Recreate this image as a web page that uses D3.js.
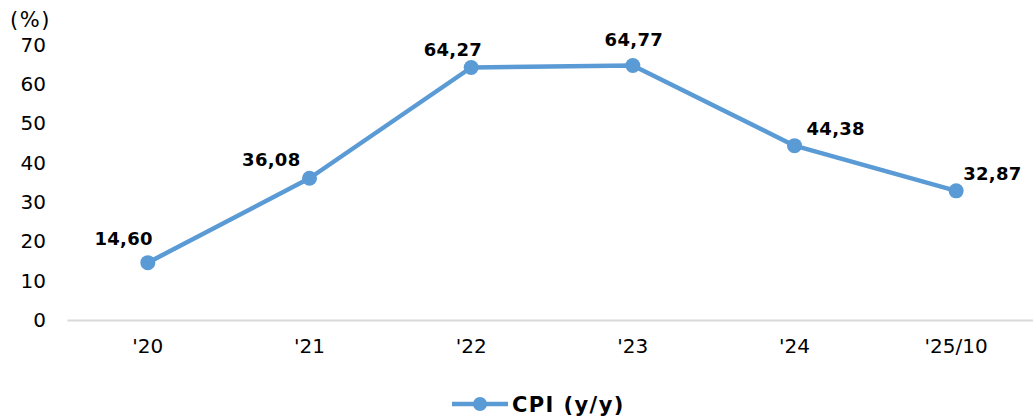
<!DOCTYPE html>
<html>
<head>
<meta charset="utf-8">
<script src="https://cdn.jsdelivr.net/npm/d3@7"></script>
<style>
  body { margin: 0; background: #fff; }
  svg { display: block; font-family: "DejaVu Sans", Verdana, sans-serif; }
</style>
</head>
<body>
<svg id="chart" width="1033" height="419"></svg>
<script>
const categories = ["'20", "'21", "'22", "'23", "'24", "'25/10"];
const cpiValues = [14.60, 36.08, 64.27, 64.77, 44.38, 32.87];
const yTicks = [0, 10, 20, 30, 40, 50, 60, 70];
const seriesName = "CPI (y/y)";

const width = 1033;
const height = 419;
const margin = { top: 45, right: -4, bottom: 99, left: 67 };
const LINE_COLOR = "#5b9bd5";

// label placement next to each point: [dx, dy, anchor]
const labelOffsets = [
    [5, -18, "end"],
    [-9, -12, "end"],
    [11, -12, "end"],
    [1, -20, "middle"],
    [12, -11, "start"],
    [7, -11, "start"]
];

const svg = d3.select("#chart");

const x = d3.scaleBand()
    .domain(categories)
    .range([margin.left, width - margin.right]);

const y = d3.scaleLinear()
    .domain([0, 70])
    .range([height - margin.bottom, margin.top]);

// y axis labels (no axis line, no ticks)
const yAxis = svg.append("g")
    .attr("transform", `translate(${margin.left - 21},0)`)
    .call(d3.axisLeft(y).tickValues(yTicks).tickSize(0).tickPadding(0));
yAxis.select(".domain").remove();
yAxis.selectAll("text")
    .attr("font-size", 20)
    .attr("font-family", "DejaVu Sans, Verdana, sans-serif")
    .attr("fill", "#000");

svg.append("text")
    .attr("x", 10)
    .attr("y", 27)
    .attr("font-size", 21)
    .attr("letter-spacing", 1.5)
    .text("(%)");

// x axis
const xAxis = svg.append("g")
    .attr("transform", `translate(0,${y(0)})`)
    .call(d3.axisBottom(x).tickSize(0).tickPadding(19));
xAxis.select(".domain")
    .attr("stroke", "#d9d9d9")
    .attr("stroke-width", 2);
xAxis.selectAll("text")
    .attr("font-size", 20)
    .attr("font-family", "DejaVu Sans, Verdana, sans-serif")
    .attr("fill", "#000");

const points = categories.map((c, i) => ({ cat: c, value: cpiValues[i], off: labelOffsets[i] }));

const line = d3.line()
    .x(d => x(d.cat) + x.bandwidth() / 2)
    .y(d => y(d.value));

svg.append("path")
    .datum(points)
    .attr("fill", "none")
    .attr("stroke", LINE_COLOR)
    .attr("stroke-width", 4.5)
    .attr("stroke-linejoin", "round")
    .attr("d", line);

svg.selectAll(".marker")
    .data(points)
    .enter().append("circle")
    .attr("class", "marker")
    .attr("cx", d => x(d.cat) + x.bandwidth() / 2)
    .attr("cy", d => y(d.value))
    .attr("r", 7.5)
    .attr("fill", LINE_COLOR);

svg.selectAll(".value-label")
    .data(points)
    .enter().append("text")
    .attr("class", "value-label")
    .attr("x", d => x(d.cat) + x.bandwidth() / 2 + d.off[0])
    .attr("y", d => y(d.value) + d.off[1])
    .attr("text-anchor", d => d.off[2])
    .attr("font-size", 18)
    .attr("font-weight", "bold")
    .attr("letter-spacing", 0.3)
    .text(d => d3.format(".2f")(d.value).replace(".", ","));

// legend
const legend = svg.append("g").attr("transform", "translate(452,404)");
legend.append("line")
    .attr("x1", 0).attr("x2", 56)
    .attr("stroke", LINE_COLOR)
    .attr("stroke-width", 4.5);
legend.append("circle")
    .attr("cx", 28)
    .attr("r", 7)
    .attr("fill", LINE_COLOR);
legend.append("text")
    .attr("x", 60)
    .attr("y", 8)
    .attr("font-size", 21)
    .attr("font-weight", "bold")
    .attr("letter-spacing", 1.4)
    .text(seriesName);
</script>
</body>
</html>
